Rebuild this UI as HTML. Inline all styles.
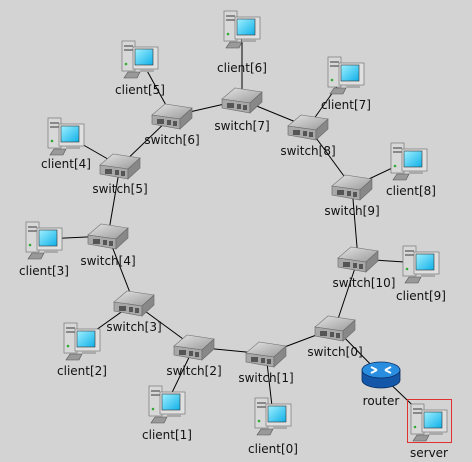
<!DOCTYPE html>
<html><head><meta charset="utf-8"><style>
html,body{margin:0;padding:0;background:#d3d3d3;}
svg{display:block}
text{font-family:"DejaVu Sans","Liberation Sans",sans-serif;font-size:12px;fill:#111;text-anchor:middle}
</style></head><body>
<svg width="472" height="462" viewBox="0 0 472 462" xmlns="http://www.w3.org/2000/svg">
<defs>
<linearGradient id="sg" x1="0" y1="0" x2="1" y2="1"><stop offset="0" stop-color="#e4e4e4"/><stop offset="1" stop-color="#9a9a9a"/></linearGradient>
<linearGradient id="scr" x1="0" y1="0" x2="1" y2="1"><stop offset="0" stop-color="#9ff0ff"/><stop offset="1" stop-color="#10b0e8"/></linearGradient>
<g id="sw">
<polygon points="-20,-1 -7,-12 20,-8 8,3" fill="url(#sg)" stroke="#777" stroke-width="0.6"/>
<polygon points="-20,-1 8,3 8,13 -20,8" fill="#a8a8a8" stroke="#666" stroke-width="0.6"/>
<polygon points="8,3 20,-8 20,2 8,13" fill="#888" stroke="#666" stroke-width="0.6"/>
<rect x="-15" y="3" width="7" height="5" fill="#555"/><rect x="-5" y="4" width="4" height="5" fill="#555"/><rect x="1" y="5" width="4" height="5" fill="#555"/>
</g>
<g id="pc">
<rect x="-18" y="-17" width="13" height="30" fill="#d8d8d8" stroke="#777" stroke-width="0.7"/>
<rect x="-16" y="-13" width="9" height="2" fill="#888"/><rect x="-16" y="-9" width="9" height="2" fill="#888"/>
<circle cx="-14" cy="6" r="1.3" fill="#3a3"/>
<rect x="-7" y="-11" width="25" height="22" fill="#e0e0e0" stroke="#777" stroke-width="0.7"/>
<rect x="-5" y="-9" width="18" height="16" fill="url(#scr)" stroke="#333" stroke-width="0.6"/>
<polygon points="-12,14 0,14 -3,20 -16,20" fill="#999" stroke="#555" stroke-width="0.6"/>
<rect x="0" y="11" width="14" height="3" fill="#aaa"/>
</g>
</defs>
<g stroke="#000" stroke-width="1">
<line x1="242" y1="100" x2="172" y2="116"/><line x1="172" y1="116" x2="120" y2="166"/>
<line x1="120" y1="166" x2="108" y2="236"/><line x1="108" y1="236" x2="134" y2="303"/>
<line x1="134" y1="303" x2="194" y2="347"/><line x1="194" y1="347" x2="266" y2="354"/>
<line x1="266" y1="354" x2="335" y2="328"/><line x1="335" y1="328" x2="358" y2="259"/>
<line x1="358" y1="259" x2="352" y2="187"/><line x1="352" y1="187" x2="308" y2="127"/>
<line x1="308" y1="127" x2="242" y2="100"/>
<line x1="242" y1="28" x2="242" y2="100"/><line x1="140" y1="58" x2="172" y2="116"/>
<line x1="346" y1="74" x2="308" y2="127"/><line x1="66" y1="135" x2="120" y2="166"/>
<line x1="409" y1="160" x2="352" y2="187"/><line x1="44" y1="239" x2="108" y2="236"/>
<line x1="421" y1="263" x2="358" y2="259"/><line x1="82" y1="340" x2="134" y2="303"/>
<line x1="167" y1="403" x2="194" y2="347"/><line x1="273" y1="415" x2="266" y2="354"/>
<line x1="335" y1="328" x2="381" y2="375"/><line x1="381" y1="375" x2="429" y2="421"/>
</g>
<g>
<use href="#sw" x="242" y="100"/><use href="#sw" x="172" y="116"/><use href="#sw" x="308" y="127"/>
<use href="#sw" x="120" y="166"/><use href="#sw" x="352" y="187"/><use href="#sw" x="108" y="236"/>
<use href="#sw" x="358" y="259"/><use href="#sw" x="134" y="303"/><use href="#sw" x="335" y="328"/>
<use href="#sw" x="194" y="347"/><use href="#sw" x="266" y="354"/>
<use href="#pc" x="242" y="28"/><use href="#pc" x="140" y="58"/><use href="#pc" x="346" y="74"/>
<use href="#pc" x="66" y="135"/><use href="#pc" x="409" y="160"/><use href="#pc" x="44" y="239"/>
<use href="#pc" x="421" y="263"/><use href="#pc" x="82" y="340"/><use href="#pc" x="167" y="403"/>
<use href="#pc" x="273" y="415"/><use href="#pc" x="429" y="421"/>
</g>
<g>
<path d="M362,370 v10 a19,8 0 0 0 38,0 v-10 z" fill="#1457a8" stroke="#0b2f66" stroke-width="0.8"/>
<ellipse cx="381" cy="370" rx="19" ry="8" fill="#2a8ee0" stroke="#0b2f66" stroke-width="0.8"/>
<path d="M371,367 l6,3 M371,373 l6,-3 M391,367 l-6,3 M391,373 l-6,-3" stroke="#fff" stroke-width="2"/>
</g>
<rect x="407.5" y="399.5" width="44" height="43" fill="none" stroke="#e03030" stroke-width="1"/>
<text x="242" y="72">client[6]</text><text x="140" y="94">client[5]</text><text x="346" y="109">client[7]</text>
<text x="66" y="168">client[4]</text><text x="411" y="195">client[8]</text><text x="44" y="275">client[3]</text>
<text x="421" y="300">client[9]</text><text x="82" y="375">client[2]</text><text x="167" y="439">client[1]</text>
<text x="273" y="453">client[0]</text><text x="429" y="457">server</text><text x="381" y="405">router</text>
<text x="242" y="130">switch[7]</text><text x="172" y="144">switch[6]</text><text x="308" y="155">switch[8]</text>
<text x="120" y="193">switch[5]</text><text x="352" y="215">switch[9]</text><text x="108" y="265">switch[4]</text>
<text x="364" y="287">switch[10]</text><text x="134" y="331">switch[3]</text><text x="335" y="356">switch[0]</text>
<text x="194" y="375">switch[2]</text><text x="266" y="382">switch[1]</text>
</svg>
</body></html>
